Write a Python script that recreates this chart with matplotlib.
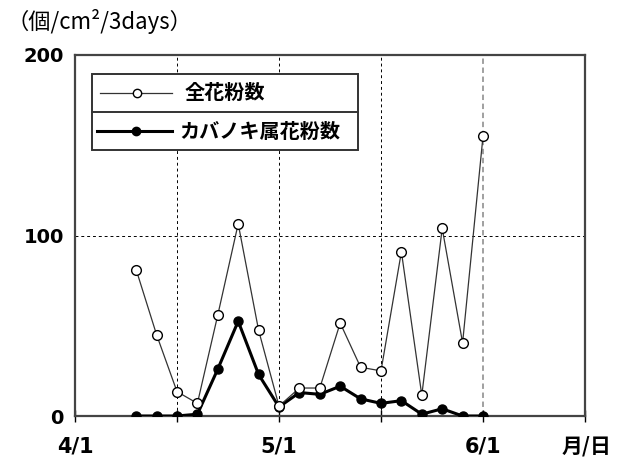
import matplotlib.pyplot as plt
from matplotlib.lines import Line2D
from matplotlib.patches import Rectangle

# sampling days, counted from 4/1 (3-day collection periods)
days = [9, 12, 15, 18, 21, 24, 27, 30, 33, 36, 39, 42, 45, 48, 51, 54, 57, 60]
total_pollen = [81, 45, 13.5, 7, 56, 106.5, 47.5, 5.5, 15.5, 15.5, 51.5, 27,
                25, 91, 11.5, 104, 40.5, 155]
birch_pollen = [0, 0, 0, 1, 26, 52.5, 23, 5, 13, 12, 16.5, 9.5, 7, 8.5, 1, 4,
                0, 0]

tick_days = [0, 15, 30, 45, 60, 75]
tick_labels = ['4/1', '', '5/1', '', '6/1', '']
label_total = '全花粉数'
label_birch = 'カバノキ属花粉数'

jp = ['Noto Sans CJK JP', 'DejaVu Sans']

dpi = 100
fig = plt.figure(dpi=dpi, figsize=(621 / dpi, 459 / dpi))
ax = fig.add_axes([75 / 621, 1 - 416 / 459, 510 / 621, 361 / 459])

ax.plot(days, birch_pollen, color='black', lw=2.2, marker='o', ms=6.5,
        mfc='black', mec='black', zorder=3)
ax.plot(days, total_pollen, color='#333333', lw=0.9, marker='o', ms=7,
        mfc='white', mec='black', mew=1.0, zorder=4)

ax.set_xlim(0, 75)
ax.set_ylim(0, 200)

# dashed grid; the 6/1 line is lighter
for d in tick_days[1:4]:
    ax.axvline(d, color='black', ls=(0, (3, 3)), lw=0.7, zorder=1)
ax.axvline(tick_days[4], color='#999999', ls=(0, (3, 2)), lw=1.3, zorder=1)
ax.axhline(100, color='black', ls=(0, (3, 3)), lw=0.7, zorder=1)

ax.set_xticks(tick_days)
ax.set_xticklabels(tick_labels, fontsize=15, fontweight='bold')
ax.tick_params(axis='x', direction='inout', length=8, width=1, pad=11)
ax.set_yticks([0, 100, 200])
ax.set_yticklabels(['0', '100', '200'], fontsize=14, fontweight='bold')
ax.tick_params(axis='y', length=0, pad=8)

for s in ax.spines.values():
    s.set_linewidth(1.6)
    s.set_color('#444444')

# legend box with a divider between the two rows
ax.add_patch(Rectangle((0.033, 0.737), 0.522, 0.21, transform=ax.transAxes,
                       fill=True, fc='white', ec='#333333', lw=1.4, zorder=6))
ax.add_line(Line2D([0.033, 0.555], [0.842, 0.842], transform=ax.transAxes,
                   color='#333333', lw=1.4, zorder=7))
ax.add_line(Line2D([0.049, 0.190], [0.895, 0.895], transform=ax.transAxes,
                   color='#333333', lw=0.9, zorder=7))
ax.add_line(Line2D([0.122], [0.895], transform=ax.transAxes, marker='o', ms=6,
                   mfc='white', mec='black', mew=1.0, zorder=8))
ax.add_line(Line2D([0.043, 0.190], [0.789, 0.789], transform=ax.transAxes,
                   color='black', lw=2.2, zorder=7))
ax.add_line(Line2D([0.12], [0.789], transform=ax.transAxes, marker='o',
                   ms=6, mfc='black', mec='black', zorder=8))
ax.text(0.214, 0.895, label_total, transform=ax.transAxes, family=jp,
        fontsize=14.5, fontweight='bold', va='center', zorder=9)
ax.text(0.204, 0.789, label_birch, transform=ax.transAxes, family=jp,
        fontsize=14.5, fontweight='bold', va='center', zorder=9)

fig.text(6 / 621, 1 - 22 / 459, '（個/cm²/3days）', family=jp, fontsize=16,
         va='center', ha='left')
fig.text(587 / 621, 1 - 446 / 459, '月/日', family=jp, fontsize=15,
         fontweight='bold', va='center', ha='center')

fig.savefig('out.png', dpi=dpi)
